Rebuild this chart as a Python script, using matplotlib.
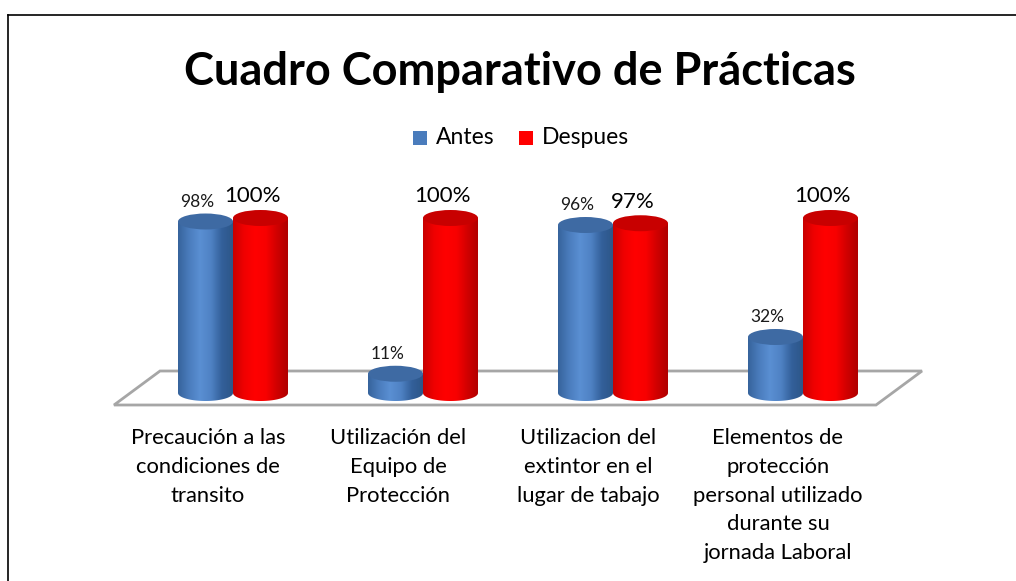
import numpy as np
import matplotlib.pyplot as plt
from matplotlib.path import Path
from matplotlib.patches import PathPatch, Ellipse, Rectangle
from matplotlib.colors import LinearSegmentedColormap

plt.rcParams['font.family'] = ['Lato', 'DejaVu Sans']

categorias = ["Precaución a las\ncondiciones de\ntransito",
              "Utilización del\nEquipo de\nProtección",
              "Utilizacion del\nextintor en el\nlugar de tabajo",
              "Elementos de\nprotección\npersonal utilizado\ndurante su\njornada Laboral"]
antes = [98, 11, 96, 32]
despues = [100, 100, 97, 100]
series = ["Antes", "Despues"]

fig = plt.figure(figsize=(10.16, 5.81), dpi=100)
ax = fig.add_axes([0, 0, 1, 1])
px_x = 190.0   # pixeles por categoria
px_y = 1.75    # pixeles por punto porcentual
x_min = -233 / px_x
y_min = -188 / px_y
ax.axis('off')

ancho = 55 / px_x
ry = 8 / px_y

# piso
piso_x = [(160 - 233) / px_x, (922 - 233) / px_x, (876 - 233) / px_x, (114 - 233) / px_x]
piso_y = [(393 - 371) / px_y, (393 - 371) / px_y, (393 - 405) / px_y, (393 - 405) / px_y]
ax.fill(piso_x, piso_y, facecolor='white', edgecolor='#a6a6a6', lw=2, zorder=1)

cmap_azul = LinearSegmentedColormap.from_list('az', ['#36639b', '#4a7cbc', '#5a8fd3', '#4f82c4', '#33609a', '#2d5688'])
cmap_rojo = LinearSegmentedColormap.from_list('ro', ['#c80000', '#f00000', '#ff0000', '#f80000', '#d00000', '#b00000'])
grad = np.linspace(0, 1, 256).reshape(1, -1)


def cilindro(xc, valor, cmap, tapa):
    x0, x1 = xc - ancho / 2, xc + ancho / 2
    t = np.linspace(np.pi, 2 * np.pi, 40)
    abajo = list(zip(xc + ancho / 2 * np.cos(t), ry * np.sin(t)))
    verts = [(x0, valor)] + abajo + [(x1, valor), (x0, valor)]
    codes = [Path.MOVETO] + [Path.LINETO] * (len(verts) - 2) + [Path.CLOSEPOLY]
    cuerpo = PathPatch(Path(verts, codes), facecolor='none', edgecolor='none')
    ax.add_patch(cuerpo)
    im = ax.imshow(grad, cmap=cmap, extent=[x0, x1, -ry, valor], aspect='auto', zorder=3)
    im.set_clip_path(cuerpo)
    ax.add_patch(Ellipse((xc, valor), ancho, 2 * ry, facecolor=tapa, edgecolor='none', zorder=4))


desp = 8 / px_x
for i in range(len(categorias)):
    xa = i - ancho / 2
    xd = i + ancho / 2
    cilindro(xa, antes[i], cmap_azul, '#3e6aa3')
    cilindro(xd, despues[i], cmap_rojo, '#c80000')
    ax.text(xa - desp, antes[i] + ry + 2, f"{antes[i]}%", ha='center', va='bottom', fontsize=12.5, color='#1a1a1a', zorder=5)
    ax.text(xd - desp, despues[i] + ry + 2, f"{despues[i]}%", ha='center', va='bottom', fontsize=16, color='black', zorder=5)
    ax.text(i - 25 / px_x, -20, categorias[i], ha='center', va='top', fontsize=15.8, linespacing=1.55, color='black')

ax.set_xlim(x_min, x_min + 1016 / px_x)
ax.set_ylim(y_min, y_min + 581 / px_y)

fig.text(520 / 1016, 1 - 72 / 581, "Cuadro Comparativo de Prácticas", ha='center', va='center',
         fontsize=32.5, fontweight='bold')

# leyenda
fig.patches.append(Rectangle((413 / 1016, 1 - 145 / 581), 14 / 1016, 14 / 581, transform=fig.transFigure,
                             facecolor='#4a7cbc', edgecolor='none'))
fig.text(436 / 1016, 1 - 138 / 581, series[0], ha='left', va='center', fontsize=16.5)
fig.patches.append(Rectangle((519 / 1016, 1 - 145 / 581), 14 / 1016, 14 / 581, transform=fig.transFigure,
                             facecolor='#ff0000', edgecolor='none'))
fig.text(542 / 1016, 1 - 138 / 581, series[1], ha='left', va='center', fontsize=16.5)

# borde
fig.lines.append(plt.Line2D([8 / 1016, 1], [1 - 15 / 581, 1 - 15 / 581], transform=fig.transFigure, color='black', lw=1.2))
fig.lines.append(plt.Line2D([8 / 1016, 8 / 1016], [0, 1 - 15 / 581], transform=fig.transFigure, color='black', lw=1.2))

fig.savefig('out.png', dpi=100)
